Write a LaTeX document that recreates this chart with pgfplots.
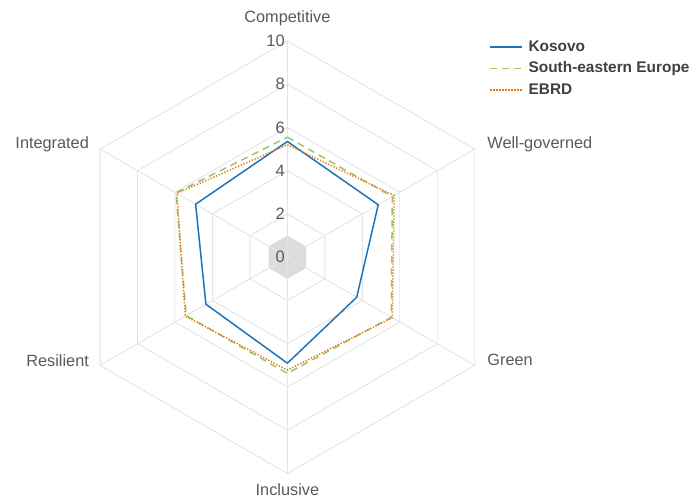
\documentclass[border=0pt]{standalone}
\usepackage{pgfplots}
\pgfplotsset{compat=1.18}
\usepgfplotslibrary{polar}
\usepackage{fontspec}
\setmainfont{Liberation Sans}
\definecolor{kos}{RGB}{26,117,188}
\definecolor{see}{RGB}{160,196,98}
\definecolor{ebrd}{RGB}{226,124,30}
\definecolor{gridc}{RGB}{228,228,228}
\definecolor{hexc}{RGB}{220,220,220}
\definecolor{labc}{RGB}{89,89,89}
\definecolor{legc}{RGB}{64,64,64}
\begin{document}
\begin{tikzpicture}
\begin{polaraxis}[
  at={(287.4bp,-257.2bp)}, anchor=center,
  scale only axis, width=432.6bp, height=432.6bp,
  xmin=0, xmax=360, ymin=0, ymax=10,
  axis line style={draw=none},
  xtick=\empty, ytick=\empty,
  clip=false,
  legend style={at={(0.967,1.006)}, anchor=north west, draw=none, fill=none,
    inner sep=0pt, row sep=4.5bp,
    font=\fontsize{15.4bp}{17bp}\selectfont\bfseries\color{legc},
    nodes={inner sep=1.5bp, text height=11bp, text depth=3bp},
    /tikz/every odd column/.append style={column sep=4bp},
    cells={anchor=west}},
  legend image code/.code={\draw[#1] (0bp,0bp) -- (32bp,0bp);},
]
% centre hexagon
\addplot[fill=hexc, draw=none, forget plot] coordinates {(90,1) (30,1) (-30,1) (-90,1) (-150,1) (150,1) (90,1)};
% grid hexagons
\pgfplotsinvokeforeach{2,4,6,8,10}{
  \addplot[gridc, line width=0.9bp, forget plot] coordinates {(90,#1) (30,#1) (-30,#1) (-90,#1) (-150,#1) (150,#1) (90,#1)};
}
% spokes
\pgfplotsinvokeforeach{90,30,-30,-90,-150,150}{
  \addplot[gridc, line width=0.9bp, forget plot] coordinates {(#1,0) (#1,10)};
}
% data
\addplot[kos, line width=1.5bp, line join=round] coordinates {(90,5.35) (30,4.85) (-30,3.7) (-90,4.9) (-150,4.35) (150,4.9) (90,5.35)};
\addlegendentry{Kosovo}
\addplot[see, line width=1.5bp, dash pattern=on 7bp off 5bp, line join=round] coordinates {(90,5.55) (30,5.6) (-30,5.55) (-90,5.37) (-150,5.4) (150,5.95) (90,5.55)};
\addlegendentry{South-eastern Europe}
\addplot[ebrd, line width=1.5bp, dash pattern=on 1.3bp off 1.7bp, line join=round] coordinates {(90,5.2) (30,5.7) (-30,5.6) (-90,5.22) (-150,5.45) (150,5.9) (90,5.2)};
\addlegendentry{EBRD}
% tick labels
\pgfplotsinvokeforeach{0,2,4,6,8,10}{
  \node[anchor=east, inner sep=0pt, xshift=-2.5bp, text=labc, font=\fontsize{16.5bp}{18bp}\selectfont] at (axis cs:90,#1) {#1};
}
% category labels
\node[anchor=center, text=labc, inner sep=0pt, font=\fontsize{16.3bp}{18bp}\selectfont] at (axis cs:90,11.05) {Competitive};
\node[anchor=west, xshift=12.5bp, yshift=5bp, text=labc, inner sep=0pt, font=\fontsize{16.3bp}{18bp}\selectfont] at (axis cs:30,10) {Well-governed};
\node[anchor=west, xshift=12.5bp, yshift=5bp, text=labc, inner sep=0pt, font=\fontsize{16.3bp}{18bp}\selectfont] at (axis cs:-30,10) {Green};
\node[anchor=center, text=labc, inner sep=0pt, font=\fontsize{16.3bp}{18bp}\selectfont] at (axis cs:-90,10.77) {Inclusive};
\node[anchor=east, xshift=-11bp, yshift=5bp, text=labc, inner sep=0pt, font=\fontsize{16.3bp}{18bp}\selectfont] at (axis cs:-150,10) {Resilient};
\node[anchor=east, xshift=-11bp, yshift=5bp, text=labc, inner sep=0pt, font=\fontsize{16.3bp}{18bp}\selectfont] at (axis cs:150,10) {Integrated};
\end{polaraxis}
\pgfresetboundingbox
\path[use as bounding box] (0bp,0bp) rectangle (691bp,-502bp);
\end{tikzpicture}
\end{document}
